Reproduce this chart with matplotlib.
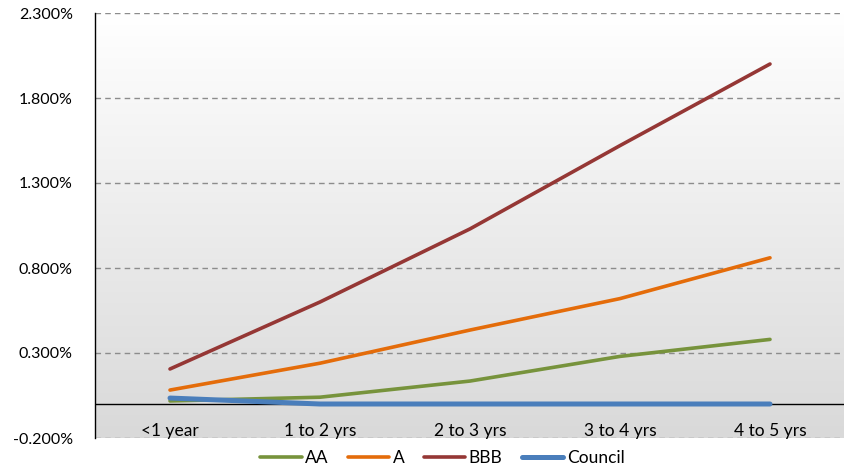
import numpy as np
import matplotlib.pyplot as plt
from matplotlib.ticker import FuncFormatter

plt.rcParams['font.family'] = ['Lato', 'DejaVu Sans']

# spread by maturity band (%)
categories = ["<1 year", "1 to 2 yrs", "2 to 3 yrs", "3 to 4 yrs", "4 to 5 yrs"]
aa = [0.018, 0.040, 0.135, 0.280, 0.380]
a = [0.082, 0.240, 0.435, 0.620, 0.860]
bbb = [0.206, 0.600, 1.030, 1.520, 2.000]
council = [0.035, 0.000, 0.000, 0.000, 0.000]

series = [("AA", aa, "#77933C", 2.6),
          ("A", a, "#E46C0A", 2.6),
          ("BBB", bbb, "#953735", 2.6),
          ("Council", council, "#4A7EBB", 3.6)]

fig = plt.figure(figsize=(8.44, 4.70), dpi=100)
ax = fig.add_axes([95 / 844, 32 / 470, 750 / 844, 425 / 470])

# vertical white-to-grey fill behind the plot
grad = np.linspace(0, 1, 256).reshape(-1, 1)
ax.imshow(grad, extent=[0, 1, 0, 1], transform=ax.transAxes, aspect='auto',
          cmap=plt.matplotlib.colors.LinearSegmentedColormap.from_list(
              "bg", ["#ffffff", "#d9d9d9"]), zorder=0)

x = np.arange(len(categories))
for name, vals, col, lw in series:
    ax.plot(x, vals, color=col, lw=lw, label=name, zorder=3,
            solid_capstyle='round')

ax.axhline(0, color='black', lw=1, zorder=2)

ax.set_xlim(-0.5, len(categories) - 0.5)
ax.set_ylim(-0.2, 2.3)
yticks = [-0.2, 0.3, 0.8, 1.3, 1.8, 2.3]
ax.set_yticks(yticks)
ax.yaxis.set_major_formatter(FuncFormatter(lambda v, p: f"{v:.3f}%"))
for yv in yticks:
    ax.axhline(yv, color='#8c8c8c', lw=1, ls=(0, (4, 3)), zorder=1)

ax.set_xticks(x)
ax.set_xticklabels(categories)
ax.tick_params(axis='x', length=0, pad=-11, labelsize=12.5)
ax.tick_params(axis='y', length=0, pad=16, labelsize=11.5)

for s in ['top', 'right', 'bottom']:
    ax.spines[s].set_visible(False)
ax.spines['left'].set_color('black')
ax.spines['left'].set_linewidth(1)

fig.legend(loc='center', bbox_to_anchor=(0.524, 0.025), ncol=4, frameon=False,
           fontsize=12.5, handlelength=2.4, columnspacing=1.1, handletextpad=0.2,
           borderaxespad=0)

fig.savefig("out.png", dpi=100)
